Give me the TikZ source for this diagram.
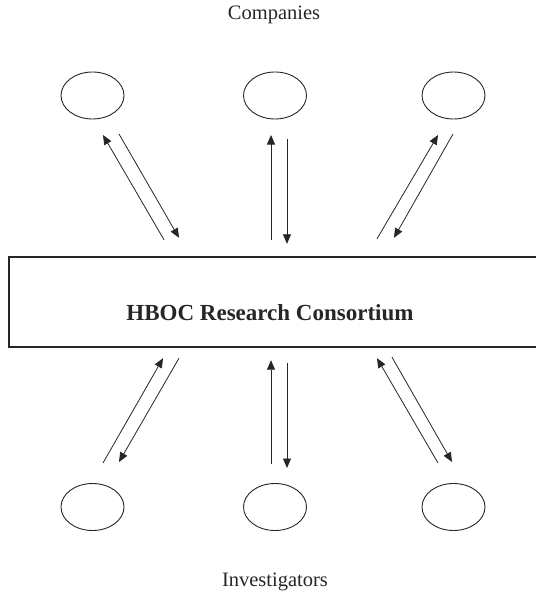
\documentclass[tikz,border=0pt]{standalone}
\usepackage{fontspec}
\setmainfont{Liberation Serif}
\usetikzlibrary{shapes.geometric,arrows.meta}

\tikzset{
	party/.style={ellipse, draw, line width=0.9pt, minimum width=63pt, minimum height=47pt, inner sep=0pt},
	hub/.style={minimum width=528pt, minimum height=90pt, inner sep=0pt},
	flow/.style={line width=0.8pt, -{Triangle[length=9.5pt,width=8pt]}},
	group/.style={font=\fontsize{20.5}{24}\selectfont, anchor=base}
}

\begin{document}
\begin{tikzpicture}[x=1pt, y=-1pt, color={black!85}]
	\useasboundingbox (0,0) rectangle (535,591);

	\node[group] (comp) at (274,20) {Companies};
	\node[group] (inv) at (275,586) {Investigators};

	\node[party] (co1) at (92.5,95.5) {};
	\node[party] (co2) at (275,95.5) {};
	\node[party] (co3) at (453.5,95.5) {};

	\node[party] (inv1) at (92.5,507) {};
	\node[party] (inv2) at (275,507) {};
	\node[party] (inv3) at (453.5,507) {};

	% the consortium box runs off the right edge
	\node[hub] (hboc) at (273,302) {};
	\draw [line width=2pt] (hboc.north east) -- (hboc.north west) -- (hboc.south west) -- (hboc.south east);
	\node[anchor=base, font=\fontsize{23}{27}\selectfont\bfseries] (title) at (270,320.5) {HBOC Research Consortium};

	% companies <-> consortium
	\draw [flow] ([shift={(-109,-17)}]hboc.north) -- ([shift={(10.5,39.5)}]co1.center);
	\draw [flow] ([shift={(26.5,38.5)}]co1.center) -- ([shift={(-94,-19)}]hboc.north);
	\draw [flow] ([shift={(-2,-17)}]hboc.north) -- ([shift={(-4,39.5)}]co2.center);
	\draw [flow] ([shift={(12,43.5)}]co2.center) -- ([shift={(14,-13)}]hboc.north);
	\draw [flow] ([shift={(104,-18)}]hboc.north) -- ([shift={(-15.5,39.5)}]co3.center);
	\draw [flow] ([shift={(-0.5,38.5)}]co3.center) -- ([shift={(121,-19)}]hboc.north);

	% investigators <-> consortium
	\draw [flow] ([shift={(10.5,-44)}]inv1.center) -- ([shift={(-110,11)}]hboc.south);
	\draw [flow] ([shift={(-94,11)}]hboc.south) -- ([shift={(26.5,-45)}]inv1.center);
	\draw [flow] ([shift={(-4,-43)}]inv2.center) -- ([shift={(-2,13)}]hboc.south);
	\draw [flow] ([shift={(14,16)}]hboc.south) -- ([shift={(12,-39)}]inv2.center);
	\draw [flow] ([shift={(-15.5,-44)}]inv3.center) -- ([shift={(104,11)}]hboc.south);
	\draw [flow] ([shift={(119,10)}]hboc.south) -- ([shift={(-1.5,-45)}]inv3.center);
\end{tikzpicture}
\end{document}
